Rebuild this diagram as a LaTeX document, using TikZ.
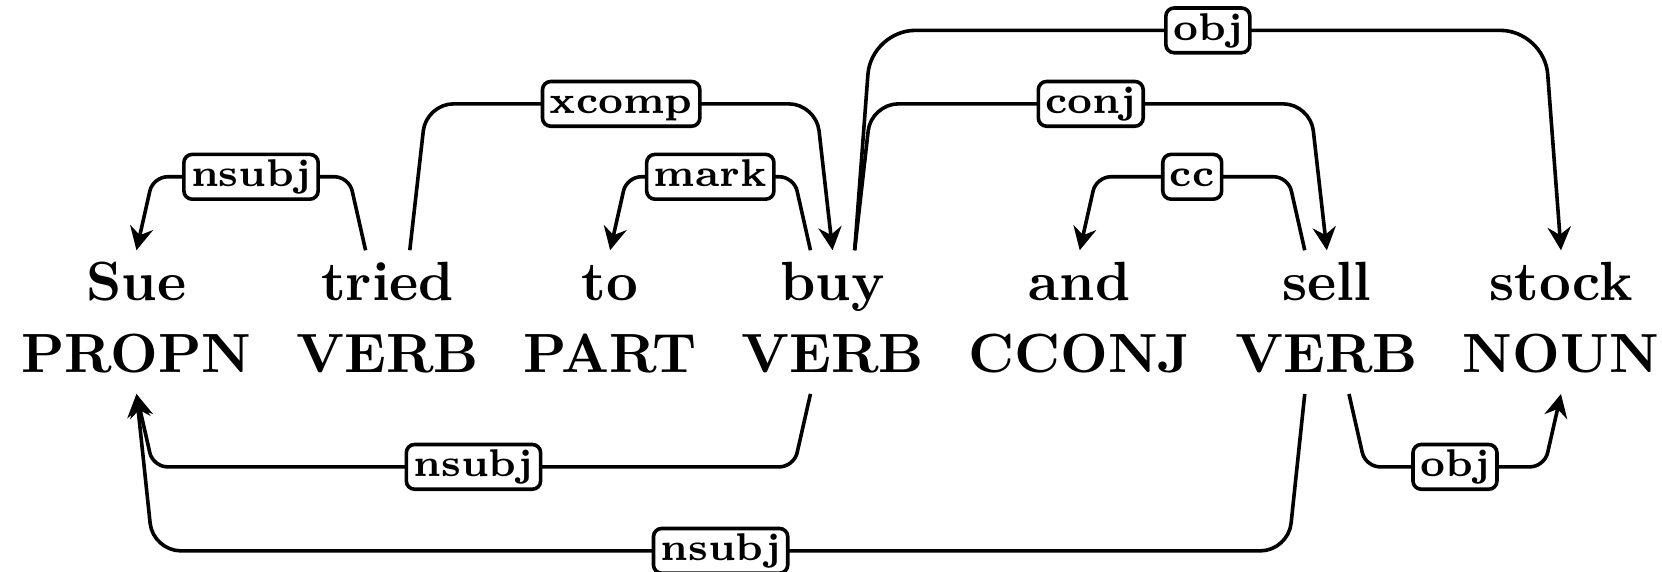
\documentclass[tikz,border=0pt]{standalone}
\usepackage{tikz}
\usetikzlibrary{arrows.meta,positioning}

\begin{document}
\begin{tikzpicture}[
    word/.style={inner xsep=0pt, inner ysep=2pt, text height=6.9pt, text depth=2pt, font=\bfseries},
    postag/.style={inner xsep=0pt, inner ysep=2pt, text height=6.9pt, text depth=1.6pt, font=\bfseries},
    deprel/.style={draw, fill=white, rounded corners=1.5pt, line width=0.65pt, inner xsep=1.3pt, inner ysep=0.9pt,
        text height=4.9pt, text depth=1.4pt, font=\scriptsize\bfseries},
    dep/.style={->, line width=0.65pt},
    >={Stealth[length=4.2pt,width=4.2pt,inset=1.4pt]},
    node distance=7.7pt]
    \useasboundingbox (-24.7pt,-36pt) rectangle (276.1pt,67.5pt);

    % tags
    \node[postag, anchor=base] (psue) at (0,0) {PROPN};
    \node[postag, base right=of psue] (ptried) {VERB};
    \node[postag, base right=of ptried] (pto) {PART};
    \node[postag, base right=of pto] (pbuy) {VERB};
    \node[postag, base right=of pbuy] (pand) {CCONJ};
    \node[postag, base right=of pand] (psell) {VERB};
    \node[postag, base right=of psell] (pstock) {NOUN};

    % words
    \node[word, above=-0.2pt of psue] (wsue) {Sue};
    \node[word, above=-0.2pt of ptried] (wtried) {tried};
    \node[word, above=-0.2pt of pto] (wto) {to};
    \node[word, above=-0.2pt of pbuy] (wbuy) {buy};
    \node[word, above=-0.2pt of pand] (wand) {and};
    \node[word, above=-0.2pt of psell] (wsell) {sell};
    \node[word, above=-0.2pt of pstock] (wstock) {stock};

    % arcs above
    \draw[dep, rounded corners=2.6pt] ([xshift=-4pt]wtried.north) -- ++(-3pt,13.3pt)
        -- node[deprel] {nsubj} ([shift={(3pt,13.3pt)}]wsue.north) -- (wsue.north);
    \draw[dep, rounded corners=4.9pt] ([xshift=4pt]wtried.north) -- ++(3pt,26.5pt)
        -- node[deprel] {xcomp} ([shift={(-3pt,26.5pt)}]wbuy.north) -- (wbuy.north);
    \draw[dep, rounded corners=2.6pt] ([xshift=-4pt]wbuy.north) -- ++(-3pt,13.3pt)
        -- node[deprel] {mark} ([shift={(3pt,13.3pt)}]wto.north) -- (wto.north);
    \draw[dep, rounded corners=8pt] ([xshift=4pt]wbuy.north) -- ++(3pt,39.8pt)
        -- node[deprel] {obj} ([shift={(-3pt,39.8pt)}]wstock.north) -- (wstock.north);
    \draw[dep, rounded corners=4.9pt] ([xshift=4pt]wbuy.north) -- ++(3pt,26.5pt)
        -- node[deprel] {conj} ([shift={(-3pt,26.5pt)}]wsell.north) -- (wsell.north);
    \draw[dep, rounded corners=2.6pt] ([xshift=-4pt]wsell.north) -- ++(-3pt,13.3pt)
        -- node[deprel] {cc} ([shift={(3pt,13.3pt)}]wand.north) -- (wand.north);

    % arcs below
    \draw[dep, rounded corners=2.6pt] ([xshift=-4pt]pbuy.south) -- ++(-3pt,-13.2pt)
        -- node[deprel] {nsubj} ([shift={(3pt,-13.2pt)}]psue.south) -- (psue.south);
    \draw[dep, rounded corners=5pt] ([xshift=-4pt]psell.south) -- ++(-3pt,-28.4pt)
        -- node[deprel] {nsubj} ([shift={(3pt,-28.4pt)}]psue.south) -- (psue.south);
    \draw[dep, rounded corners=2.6pt] ([xshift=4pt]psell.south) -- ++(3pt,-13.2pt)
        -- node[deprel] {obj} ([shift={(-3pt,-13.2pt)}]pstock.south) -- (pstock.south);
\end{tikzpicture}
\end{document}
